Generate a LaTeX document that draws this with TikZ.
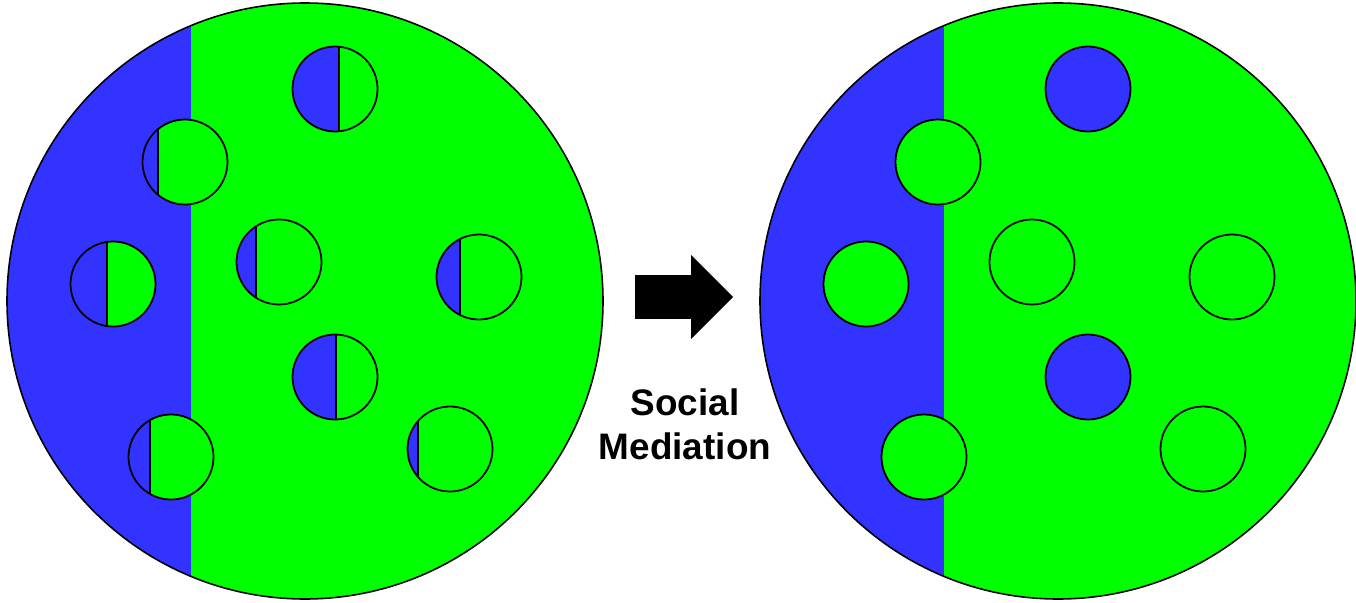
\documentclass[tikz,border=0pt]{standalone}
\usepackage{fontspec}
\setmainfont{Liberation Sans}
\definecolor{popblue}{RGB}{51,51,255}
\definecolor{popgreen}{RGB}{0,255,0}
\usetikzlibrary{shapes.arrows}

\begin{document}
\begin{tikzpicture}[x=0.02cm,y=-0.02cm]
  \useasboundingbox (0,0) rectangle (1356,602);

  % Both populations: green majority, blue strip on the left
  \foreach \dx in {0,753}{
    \begin{scope}[shift={(\dx,0)}]
      \begin{scope}
        \clip (305,301) circle (298);
        \fill[popgreen] (0,0) rectangle (610,610);
        \fill[popblue] (0,0) rectangle (191,610);
      \end{scope}
      \draw[line width=0.9pt] (305,301) circle (298);
    \end{scope}
  }

  % Left: individuals holding mixed opinions
  \foreach \cx/\cy/\sx in {335/89/339, 185/162/158, 113/284/107, 279/262/256,
                           479/277/460, 335/377/336, 171/457/150, 450/449/418}{
    \begin{scope}
      \clip (\cx,\cy) circle (42.5);
      \fill[popgreen] (\cx-50,\cy-50) rectangle (\cx+50,\cy+50);
      \fill[popblue] (\cx-50,\cy-50) rectangle (\sx,\cy+50);
      \draw[line width=1pt] (\sx,\cy-50) -- (\sx,\cy+50);
    \end{scope}
    \draw[line width=1pt] (\cx,\cy) circle (42.5);
  }

  % Right: individuals after mediation
  \foreach \cx/\cy/\col in {1088/89/popblue, 938/162/popgreen, 866/284/popgreen,
                            1032/262/popgreen, 1232/277/popgreen, 1088/377/popblue,
                            924/457/popgreen, 1203/449/popgreen}{
    \draw[line width=1pt, fill=\col] (\cx,\cy) circle (42.5);
  }

  % Transition arrow and label
  \node[single arrow, fill=black, inner xsep=0pt, inner ysep=0.43cm, outer sep=0pt,
        minimum height=1.96cm, single arrow head extend=0.4cm, anchor=tip] (shift) at (733,297) {};
  \node[font=\bfseries\fontsize{21}{25}\selectfont, align=center] (label) at (685,424)
    {Social\\Mediation};
\end{tikzpicture}
\end{document}
